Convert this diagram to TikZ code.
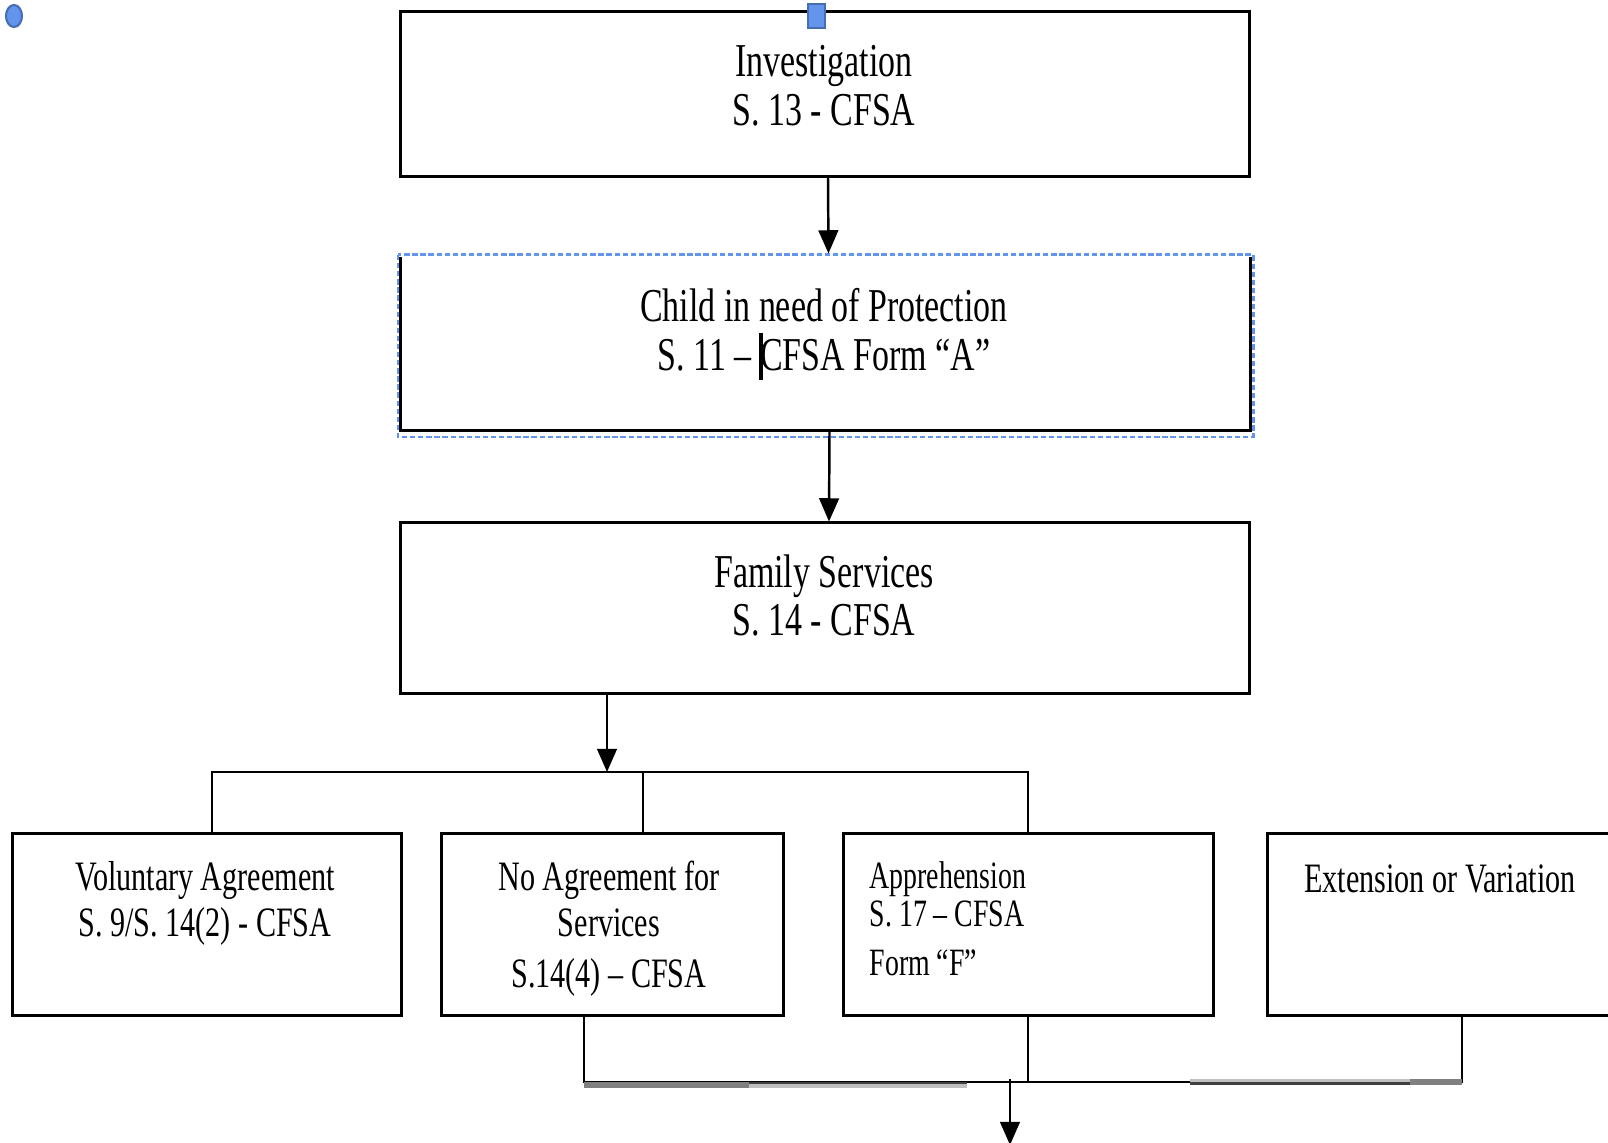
\documentclass[tikz,border=0pt]{standalone}
\usepackage{fontspec}
\setmainfont{Liberation Serif}[FakeStretch=0.72]
\usepackage{tikz}
\usetikzlibrary{arrows.meta,positioning}
\definecolor{selblue}{RGB}{100,149,237}
\definecolor{seledge}{RGB}{70,110,180}
\newcommand{\bigfnt}{\fontsize{13.4}{13.9}\selectfont}
\newcommand{\midfnt}{\fontsize{11.9}{13.1}\selectfont}
\newcommand{\smlfnt}{\fontsize{11}{10.8}\selectfont}

\begin{document}
\begin{tikzpicture}[x=0.01cm,y=-0.01cm,
  box/.style={draw,line width=0.85pt,inner sep=0pt},
  txt/.style={align=center,inner sep=0pt,font=\bigfnt},
  link/.style={line width=0.75pt},
  arr/.style={line width=0.7pt,-{Triangle[width=5.6pt,length=6.6pt]}}]
 %the case flow chart
  \useasboundingbox (0,0) rectangle (1608,1143);
  %draw boxes
    \node[box,minimum width=8.48cm,minimum height=1.64cm] (inv) at (825,94) {};
    \node[box,minimum width=8.49cm,minimum height=1.75cm] (cinp) at (825.5,342.5) {};
    \node[box,minimum width=8.48cm,minimum height=1.70cm] (fam) at (825,608) {};
    \node[box,minimum width=3.88cm,minimum height=1.81cm] (vol) at (207,924.5) {};
    \node[box,minimum width=3.41cm,minimum height=1.81cm] (noag) at (612.5,924.5) {};
    \node[box,minimum width=3.69cm,minimum height=1.81cm] (appr) at (1028.5,924.5) {};
    \node[box,minimum width=3.82cm,minimum height=1.81cm] (ext) at (1459,924.5) {};
  %selection frame and handles
    \draw[white,line width=1.2pt] (398,255) -- (1253,255);
    \draw[selblue,line width=0.85pt,dash pattern=on 1.5pt off 0.8pt] (398,255) rectangle (1253,437);
    \draw[seledge,fill=selblue,line width=0.6pt] (14,16) ellipse [x radius=0.08cm,y radius=0.11cm];
    \draw[seledge,fill=selblue,line width=0.6pt] (808,4) rectangle (825,28);
  %texts
    \node[txt] (invt) at (824,86) {Investigation\\S. 13 - CFSA};
    \node[txt] (cinpt) at (824,329.5) {Child in need of Protection\\S. 11 – CFSA Form “A”};
    \node[txt] (famt) at (824,595.5) {Family Services\\S. 14 - CFSA};
    \node[txt,font=\midfnt] (volt) at (205,903.5) {Voluntary Agreement\\S. 9/S. 14(2) - CFSA};
    \node[txt,font=\midfnt] (noagt) at (609,929) {No Agreement for\\Services\\[1.4pt]S.14(4) – CFSA};
    \node[txt,font=\smlfnt,align=left,anchor=west] (apprt) at (869,918.5) {Apprehension\\S. 17 – CFSA\\[3.1pt]Form “F”};
    \node[txt,font=\midfnt] (extt) at (1440,879) {Extension or Variation};
  %text cursor
    \draw[line width=1.1pt] (761,333) -- (761,380);
  %draw arrows
    \draw[arr] ([xshift=0.03cm]inv.south) -- ([xshift=0.03cm]cinp.north);
    \draw[arr] ([xshift=0.04cm]cinp.south) -- ([xshift=0.04cm]fam.north);
    \coordinate (jtop) at (607,772);
    \draw[arr] (fam.south -| jtop) -- (jtop);
  %upper rail
    \coordinate (ta) at (212,772);
    \coordinate (tb) at (643,772);
    \coordinate (tc) at (1028,772);
    \draw[link] (ta |- vol.north) -- (ta) -- (tc) -- (tc |- appr.north);
    \draw[link] (tb) -- (tb |- noag.north);
  %lower rail
    \coordinate (ba) at (584,1082);
    \coordinate (bb) at (1028,1082);
    \coordinate (bc) at (1462,1082);
    \draw[link] (ba |- noag.south) -- (ba) -- (bc) -- (bc |- ext.south);
    \draw[link] (bb |- appr.south) -- (bb);
    \foreach \xa/\xb/\ya/\yb/\shade in {584/749/1082/1088/gray,749/967/1082/1084.5/black!75,
        749/967/1084.5/1088/black!25,1190/1410/1079/1082/black!25,
        1190/1410/1082/1085/black!75,1410/1462/1079/1085/gray}
      \fill[\shade] (\xa,\ya) rectangle (\xb,\yb);
    \coordinate (bj) at (1010,1082);
    \coordinate (down) at (1010,1145);
    \draw[arr] ([yshift=0.03cm]bj) -- (down);
\end{tikzpicture}
\end{document}
